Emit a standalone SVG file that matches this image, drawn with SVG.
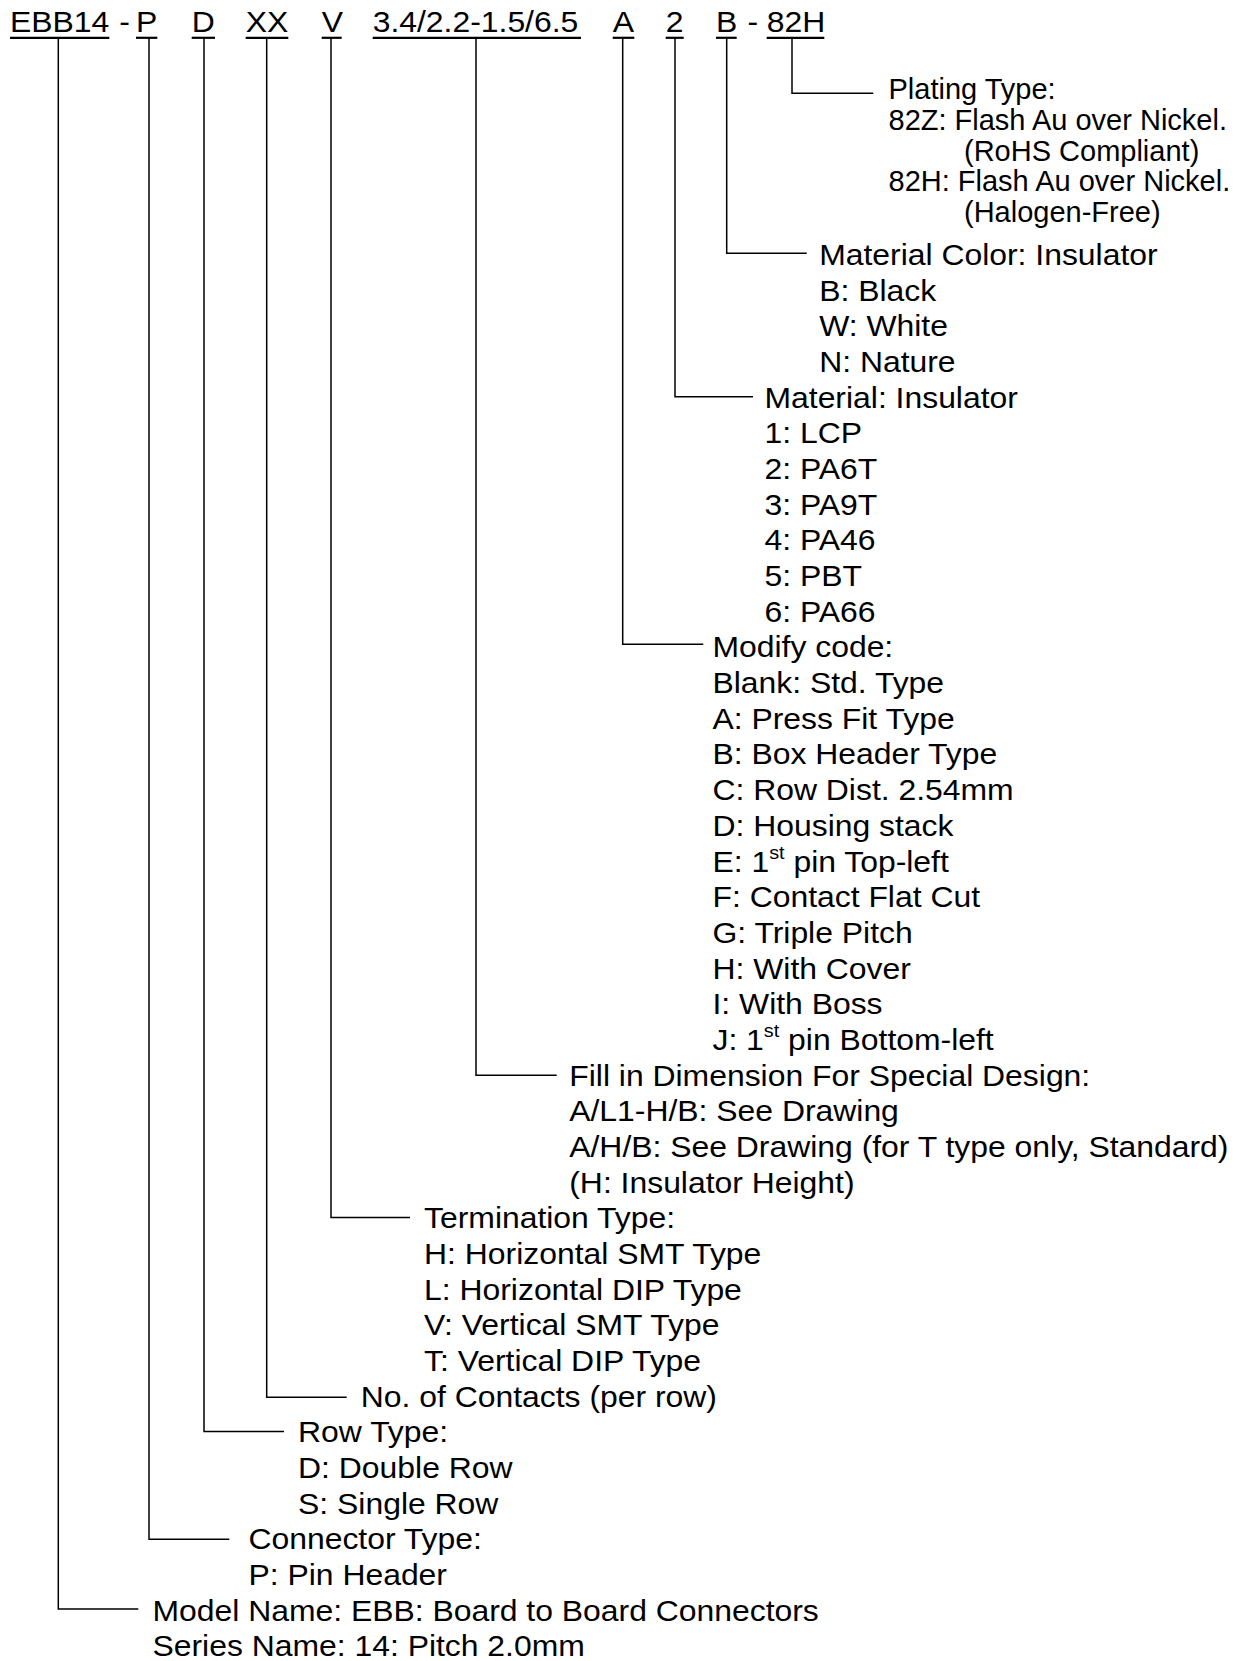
<svg xmlns="http://www.w3.org/2000/svg" width="1244" height="1661" viewBox="0 0 1244 1661">
<style>
.t{font-family:"Liberation Sans",Arial,sans-serif;font-size:29px;fill:#000}
.sup{font-size:18px}
.ln{stroke:#000;stroke-width:1.5;fill:none}
.ul{stroke:#000;stroke-width:2.2}
</style>
<rect width="1244" height="1661" fill="#fff"/>
<g id="code">
<g transform="scale(1.1 1)" class="t">
<text x="9.09" y="32">EBB14</text>
<text x="108.5" y="32">-</text>
<text x="123.6" y="32">P</text>
<text x="174.3" y="32">D</text>
<text x="223.4" y="32">XX</text>
<text x="292.5" y="32">V</text>
<text x="338.8" y="32">3.4/2.2-1.5/6.5</text>
<text x="557" y="32">A</text>
<text x="605.2" y="32">2</text>
<text x="650.9" y="32">B</text>
<text x="679.5" y="32">-</text>
<text x="697" y="32">82H</text>
</g>
<g class="ul">
<line x1="10" y1="37.8" x2="109.3" y2="37.8"/>
<line x1="136" y1="37.8" x2="157.3" y2="37.8"/>
<line x1="191.7" y1="37.8" x2="215" y2="37.8"/>
<line x1="245.7" y1="37.8" x2="288.3" y2="37.8"/>
<line x1="321.7" y1="37.8" x2="341.7" y2="37.8"/>
<line x1="372.7" y1="37.8" x2="581" y2="37.8"/>
<line x1="612.7" y1="37.8" x2="634.3" y2="37.8"/>
<line x1="665.7" y1="37.8" x2="683.7" y2="37.8"/>
<line x1="716" y1="37.8" x2="736.7" y2="37.8"/>
<line x1="766.7" y1="37.8" x2="824.3" y2="37.8"/>
</g>
</g>
<g id="connectors" class="ln">
<path d="M792 38V93.3H873.3"/>
<path d="M726.7 38V253.3H806.7"/>
<path d="M675 38V396.7H753"/>
<path d="M622.7 38V644.3H703.3"/>
<path d="M476 38V1075.3H556.7"/>
<path d="M331 38V1217.4H410"/>
<path d="M266.7 38V1397.3H346.7"/>
<path d="M204 38V1431.4H284"/>
<path d="M149 38V1539.3H229.3"/>
<path d="M58.3 38V1609H138.3"/>
</g>
<g id="plating" class="t">
<text x="888.5" y="99.3">Plating Type:</text>
<text x="888.5" y="129.9">82Z: Flash Au over Nickel.</text>
<text x="964" y="160.5">(RoHS Compliant)</text>
<text x="888.5" y="191.1">82H: Flash Au over Nickel.</text>
<text x="964" y="221.7">(Halogen-Free)</text>
</g>
<g id="material-color" class="t" transform="scale(1.1 1)">
<text x="744.7" y="265">Material Color: Insulator</text>
<text x="744.7" y="300.7">B: Black</text>
<text x="744.7" y="336.4">W: White</text>
<text x="744.7" y="372">N: Nature</text>
</g>
<g id="material" class="t" transform="scale(1.1 1)">
<text x="695" y="407.7">Material: Insulator</text>
<text x="695" y="443.4">1: LCP</text>
<text x="695" y="479.1">2: PA6T</text>
<text x="695" y="514.8">3: PA9T</text>
<text x="695" y="550.4">4: PA46</text>
<text x="695" y="586.1">5: PBT</text>
<text x="695" y="621.8">6: PA66</text>
</g>
<g id="modify" class="t" transform="scale(1.1 1)">
<text x="647.7" y="657.5">Modify code:</text>
<text x="647.7" y="693.2">Blank: Std. Type</text>
<text x="647.7" y="728.8">A: Press Fit Type</text>
<text x="647.7" y="764.5">B: Box Header Type</text>
<text x="647.7" y="800.2">C: Row Dist. 2.54mm</text>
<text x="647.7" y="835.9">D: Housing stack</text>
<text x="647.7" y="871.6">E: 1<tspan class="sup" dy="-13">st</tspan><tspan dy="13"> pin Top-left</tspan></text>
<text x="647.7" y="907.2">F: Contact Flat Cut</text>
<text x="647.7" y="942.9">G: Triple Pitch</text>
<text x="647.7" y="978.6">H: With Cover</text>
<text x="647.7" y="1014.3">I: With Boss</text>
<text x="647.7" y="1050">J: 1<tspan class="sup" dy="-13">st</tspan><tspan dy="13"> pin Bottom-left</tspan></text>
</g>
<g id="dimension" class="t" transform="scale(1.1 1)">
<text x="517.5" y="1085.6">Fill in Dimension For Special Design:</text>
<text x="517.5" y="1121.3">A/L1-H/B: See Drawing</text>
<text x="517.5" y="1157">A/H/B: See Drawing (for T type only, Standard)</text>
<text x="517.5" y="1192.7">(H: Insulator Height)</text>
</g>
<g id="termination" class="t" transform="scale(1.1 1)">
<text x="385.5" y="1228.4">Termination Type:</text>
<text x="385.5" y="1264">H: Horizontal SMT Type</text>
<text x="385.5" y="1299.7">L: Horizontal DIP Type</text>
<text x="385.5" y="1335.4">V: Vertical SMT Type</text>
<text x="385.5" y="1371.1">T: Vertical DIP Type</text>
</g>
<g id="contacts" class="t" transform="scale(1.1 1)">
<text x="328" y="1406.8">No. of Contacts (per row)</text>
</g>
<g id="row-type" class="t" transform="scale(1.1 1)">
<text x="271" y="1442.4">Row Type:</text>
<text x="271" y="1478.1">D: Double Row</text>
<text x="271" y="1513.8">S: Single Row</text>
</g>
<g id="connector-type" class="t" transform="scale(1.1 1)">
<text x="225.9" y="1549.5">Connector Type:</text>
<text x="225.9" y="1585.2">P: Pin Header</text>
</g>
<g id="model" class="t" transform="scale(1.1 1)">
<text x="138.6" y="1620.8">Model Name: EBB: Board to Board Connectors</text>
<text x="138.6" y="1656.5">Series Name: 14: Pitch 2.0mm</text>
</g>
</svg>
